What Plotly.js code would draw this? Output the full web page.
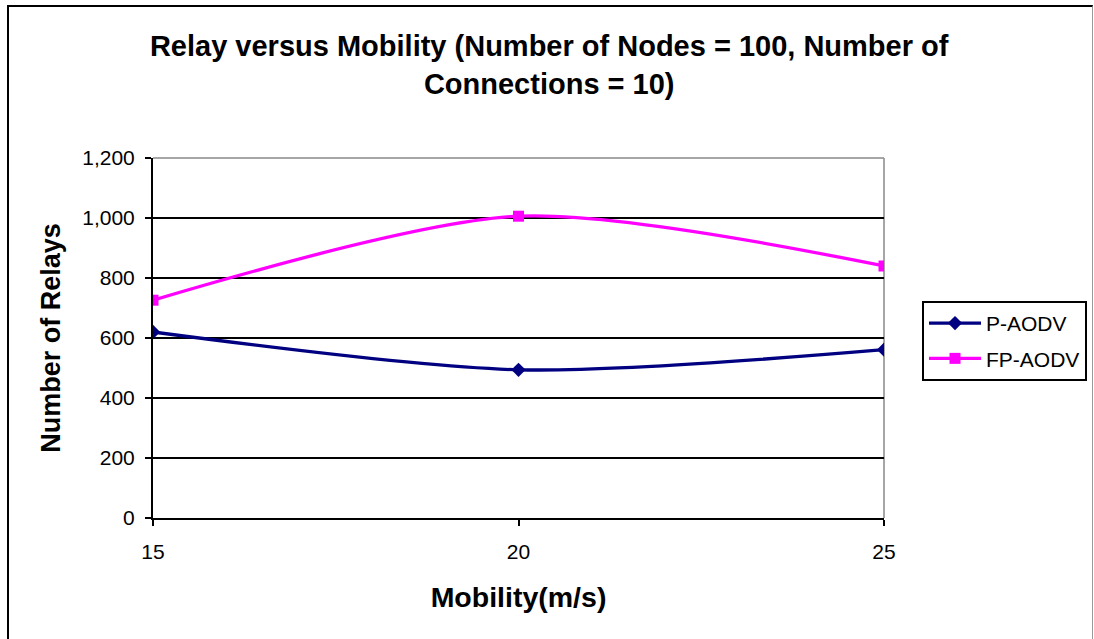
<!DOCTYPE html>
<html>
<head>
<meta charset="utf-8">
<script src="https://cdn.plot.ly/plotly-3.0.1.min.js"></script>
<style>
  html, body { margin: 0; padding: 0; background: #fff; }
  #wrap { position: relative; width: 1094px; height: 639px; overflow: hidden; }
  #chart { position: absolute; left: 0; top: 0; width: 1094px; height: 639px; }
  #frame { position: absolute; left: 7px; top: 5px; width: 1083px; height: 700px;
           border-left: 2px solid #000; border-top: 2px solid #000; border-right: 1px solid #999;
           pointer-events: none; }
</style>
</head>
<body>
<div id="wrap">
  <div id="chart"></div>
  <div id="frame"></div>
</div>
<script>
const mobility = [15, 20, 25];
const pAodv = [620, 494, 561];
const fpAodv = [726, 1006, 840];
const yTicks = [0, 200, 400, 600, 800, 1000, 1200];

const font = 'Liberation Sans, Arial, sans-serif';

const traces = [
  {
    x: mobility, y: pAodv, name: 'P-AODV', type: 'scatter', mode: 'lines+markers',
    line: { color: '#000080', width: 3.3, shape: 'spline', smoothing: 0.8 },
    marker: { symbol: 'diamond', size: 11, color: '#000080' },
    legendgroup: 'a'
  },
  {
    x: mobility, y: fpAodv, name: 'FP-AODV', type: 'scatter', mode: 'lines+markers',
    line: { color: '#FF00FF', width: 3.3, shape: 'spline', smoothing: 0.8 },
    marker: { symbol: 'square', size: 11, color: '#FF00FF' },
    legendgroup: 'b'
  }
];

const layout = {
  width: 1094, height: 639,
  margin: { l: 153, r: 210, t: 158, b: 121, autoexpand: false },
  paper_bgcolor: '#ffffff', plot_bgcolor: '#ffffff',
  font: { family: font, color: '#000' },
  title: {
    text: '<b>Relay versus Mobility (Number of Nodes = 100, Number of<br>Connections = 10)</b>',
    font: { family: font, size: 29, color: '#000' },
    x: 0.502, xref: 'container', xanchor: 'center',
    y: 0.912, yref: 'container', yanchor: 'middle'
  },
  xaxis: {
    range: [15, 25], tickvals: mobility, ticktext: mobility.map(String),
    showgrid: false, zeroline: false,
    showline: true, linecolor: '#000', linewidth: 2,
    ticks: 'outside', ticklen: 6, tickwidth: 2, tickcolor: '#000',
    tickfont: { family: font, size: 21, color: '#000' },
    ticklabelstandoff: 8,
    title: { text: '<b>Mobility(m/s)</b>', font: { family: font, size: 28.5, color: '#000' }, standoff: 25 }
  },
  yaxis: {
    range: [0, 1200], tickvals: yTicks, tickformat: ',d',
    showgrid: true, gridcolor: '#000', gridwidth: 1.5, zeroline: false,
    showline: true, linecolor: '#000', linewidth: 2,
    ticks: 'outside', ticklen: 6, tickwidth: 2, tickcolor: '#000',
    tickfont: { family: font, size: 21, color: '#000' },
    ticklabelstandoff: 6,
    title: { text: '<b>Number of Relays</b>', font: { family: font, size: 27, color: '#000' }, standoff: 14 }
  },
  shapes: [
    { type: 'line', xref: 'paper', yref: 'paper', x0: 0, x1: 1, y0: 1, y1: 1, line: { color: '#888', width: 1.5 } },
    { type: 'line', xref: 'paper', yref: 'paper', x0: 1, x1: 1, y0: 0, y1: 1, line: { color: '#888', width: 1.5 }, layer: 'below' }
  ],
  showlegend: true,
  legend: {
    x: 1.052, xanchor: 'left', y: 0.603, yanchor: 'top',
    bordercolor: '#000', borderwidth: 2, bgcolor: '#fff',
    font: { family: font, size: 21, color: '#000' },
    traceorder: 'grouped', tracegroupgap: 5, itemwidth: 52
  }
};

Plotly.newPlot('chart', traces, layout, { displayModeBar: false, staticPlot: true });
</script>
</body>
</html>
